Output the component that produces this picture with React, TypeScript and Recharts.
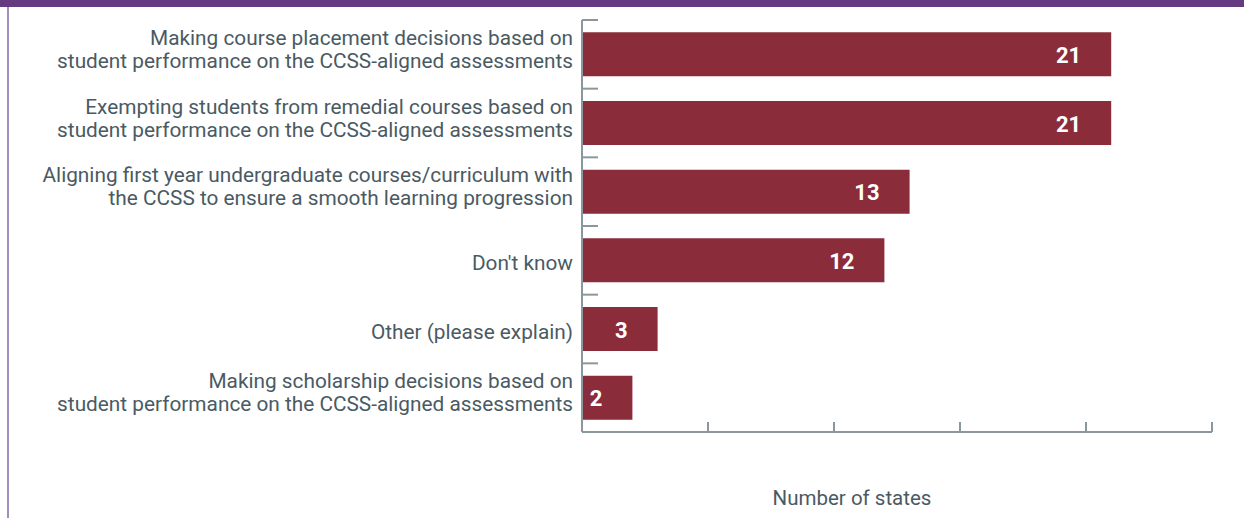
import React from 'react';
import { BarChart, Bar, XAxis, YAxis, LabelList, Label } from 'recharts';

const categoryLabels = [
  'Making course placement decisions based on\nstudent performance on the CCSS-aligned assessments',
  'Exempting students from remedial courses based on\nstudent performance on the CCSS-aligned assessments',
  'Aligning first year undergraduate courses/curriculum with\nthe CCSS to ensure a smooth learning progression',
  "Don't know",
  'Other (please explain)',
  'Making scholarship decisions based on\nstudent performance on the CCSS-aligned assessments',
];
const stateCounts = [21, 21, 13, 12, 3, 2];
const xTicks = [0, 5, 10, 15, 20, 25];

const data = categoryLabels.map((c, i) => ({ category: c, value: stateCounts[i] }));

const FONT = "Roboto, 'Liberation Sans', sans-serif";
const TEXT = '#4A5A63';
const AXIS = '#8A979D';
const BAR = '#8A2C3A';
const LABEL_GAP = 9;

const CatTick = (props: any) => {
  const { x, y, payload, index, visibleTicksCount } = props;
  const lines = String(payload.value).split('\n');
  const lh = 23;
  const half = payload.offset || 0;
  const ax = x + LABEL_GAP;
  const isLast = index === (visibleTicksCount ?? categoryLabels.length) - 1;
  return (
    <g>
      <line x1={ax} x2={ax + 16} y1={y - half} y2={y - half} stroke={AXIS} strokeWidth={2} />
      {isLast && <line x1={ax} x2={ax + 16} y1={y + half} y2={y + half} stroke={AXIS} strokeWidth={2} />}
      <text x={x} y={y} textAnchor="end" fill={TEXT} fontSize={20.8} fontFamily={FONT}>
        {lines.map((l, i) => (
          <tspan key={i} x={x} y={y + 9.5 - (lines.length - 1) * 19 + i * lh}>
            {l}
          </tspan>
        ))}
      </text>
    </g>
  );
};

const EmptyTick = () => <g />;

const ValueLabel = (props: any) => {
  const { x, y, width, height, value } = props;
  return (
    <text
      x={x + width - 30}
      y={y + height / 2 + 8.5}
      textAnchor="end"
      fill="#FFFFFF"
      fontSize={22}
      fontWeight="bold"
      fontFamily={FONT}
    >
      {value}
    </text>
  );
};

export default function App() {
  return (
    <div style={{ position: 'absolute', left: 0, top: 0, width: 1244, height: 518, background: '#fff' }}>
      <div style={{ position: 'absolute', left: 0, top: 0, width: 1244, height: 7, background: '#663A80' }} />
      <div style={{ position: 'absolute', left: 7, top: 7, width: 2, height: 511, background: '#A58CBE' }} />
      <BarChart
        width={1244}
        height={518}
        data={data}
        layout="vertical"
        margin={{ top: 20, right: 32, bottom: 86, left: 0 }}
        barCategoryGap="18%"
      >
        <XAxis
          type="number"
          domain={[0, 25]}
          ticks={xTicks}
          tick={<EmptyTick />}
          mirror
          tickSize={10}
          axisLine={{ stroke: AXIS, strokeWidth: 2 }}
          tickLine={{ stroke: AXIS, strokeWidth: 2 }}
        >
          <Label
            value="Number of states"
            position="bottom"
            offset={58}
            dx={-45}
            fill={TEXT}
            fontSize={20.5}
            fontFamily={FONT}
          />
        </XAxis>
        <YAxis
          dataKey="category"
          type="category"
          width={582}
          axisLine={{ stroke: AXIS, strokeWidth: 2 }}
          tickLine={false}
          tickSize={0}
          tickMargin={LABEL_GAP}
          tick={<CatTick />}
        />
        <Bar dataKey="value" fill={BAR} isAnimationActive={false}>
          <LabelList dataKey="value" content={<ValueLabel />} />
        </Bar>
      </BarChart>
    </div>
  );
}
